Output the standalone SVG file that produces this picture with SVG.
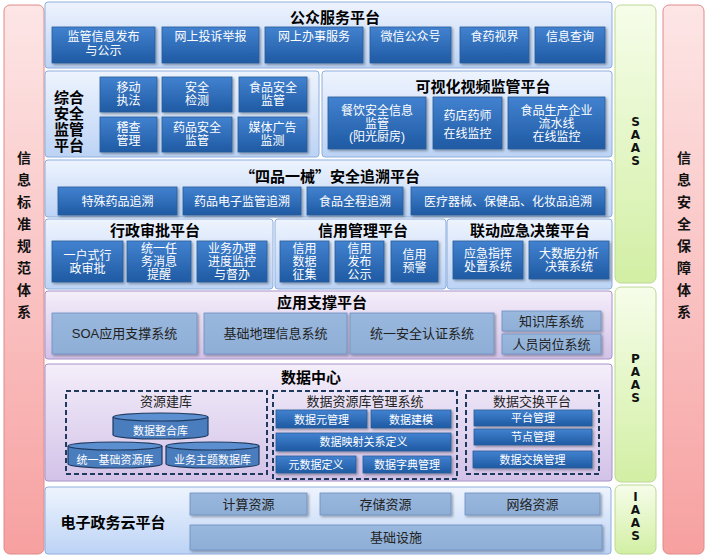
<svg xmlns="http://www.w3.org/2000/svg" width="706" height="560" viewBox="0 0 706 560">
<defs>
<linearGradient id="gPink" x1="0" y1="0" x2="0" y2="1"><stop offset="0" stop-color="#fde6e6"/><stop offset="1" stop-color="#f7a0a0"/></linearGradient>
<linearGradient id="gGreen" x1="0" y1="0" x2="0" y2="1"><stop offset="0" stop-color="#f6fdea"/><stop offset="1" stop-color="#d2efa4"/></linearGradient>
<linearGradient id="gBlueBand" x1="0" y1="0" x2="0" y2="1"><stop offset="0" stop-color="#eef4fe"/><stop offset="1" stop-color="#bcd3f5"/></linearGradient>
<linearGradient id="gPurpleBand" x1="0" y1="0" x2="0" y2="1"><stop offset="0" stop-color="#f4eefa"/><stop offset="1" stop-color="#d2c2e8"/></linearGradient>
<linearGradient id="gBtn" x1="0" y1="0" x2="0" y2="1"><stop offset="0" stop-color="#4282d0"/><stop offset="1" stop-color="#1f5aa3"/></linearGradient>
<linearGradient id="gLight" x1="0" y1="0" x2="0" y2="1"><stop offset="0" stop-color="#9ab8de"/><stop offset="1" stop-color="#8eaed6"/></linearGradient>
<filter id="sh" x="-10%" y="-10%" width="130%" height="140%"><feDropShadow dx="1.5" dy="1.5" stdDeviation="1" flood-color="#000" flood-opacity="0.35"/></filter>
</defs>
<style>
text{font-family:"Liberation Sans","Noto Sans CJK SC",sans-serif;}
.pk{fill:url(#gPink);stroke:#e08a8a;stroke-width:1;}
.gr{fill:url(#gGreen);stroke:#bcd894;stroke-width:1;}
.bb{fill:url(#gBlueBand);stroke:#8eaedc;stroke-width:1;}
.pb{fill:url(#gPurpleBand);stroke:#a892c8;stroke-width:1;}
.btn{fill:url(#gBtn);stroke:#2a5c98;stroke-width:0.8;filter:url(#sh);}
.lb{fill:url(#gLight);stroke:#6d8fc0;stroke-width:0.8;filter:url(#sh);}
.bt{fill:#fff;font-size:12px;text-anchor:middle;}
.bts{fill:#fff;font-size:11px;text-anchor:middle;}
.lt{fill:#222;font-size:13px;text-anchor:middle;}
.tt{fill:#000;font-size:15px;font-weight:bold;text-anchor:middle;}
.cjk{font-family:"Noto Sans CJK SC",sans-serif;}
.st{fill:#222;font-size:13px;text-anchor:middle;}
.vt{fill:#111;font-size:14px;font-weight:bold;text-anchor:middle;}
.lt2{fill:#111;font-family:"DejaVu Sans",sans-serif;font-size:12px;font-weight:bold;text-anchor:middle;}
.dash{fill:none;stroke:#1f3a5c;stroke-width:2;stroke-dasharray:5,3;}
.cyl{fill:#4a7dbe;stroke:#1f3a60;stroke-width:1.2;}
.cylt{fill:#5c8fd0;stroke:#1f3a60;stroke-width:1.2;}
</style>

<!-- side pillars -->
<g id="std-pillar">
<rect class="pk" x="4" y="5" width="40" height="549" rx="6"/>
<text class="vt"><tspan x="24" y="163">信</tspan><tspan x="24" y="185">息</tspan><tspan x="24" y="207">标</tspan><tspan x="24" y="229">准</tspan><tspan x="24" y="251">规</tspan><tspan x="24" y="273">范</tspan><tspan x="24" y="295">体</tspan><tspan x="24" y="317">系</tspan></text>
</g>
<g id="sec-pillar">
<rect class="pk" x="663" y="5" width="41" height="549" rx="6"/>
<text class="vt"><tspan x="684" y="163">信</tspan><tspan x="684" y="185">息</tspan><tspan x="684" y="207">安</tspan><tspan x="684" y="229">全</tspan><tspan x="684" y="251">保</tspan><tspan x="684" y="273">障</tspan><tspan x="684" y="295">体</tspan><tspan x="684" y="317">系</tspan></text>
</g>
<g id="saas">
<rect class="gr" x="615" y="5" width="41" height="278" rx="6"/>
<text class="lt2"><tspan x="635.5" y="126">S</tspan><tspan x="635.5" y="139">A</tspan><tspan x="635.5" y="152">A</tspan><tspan x="635.5" y="165">S</tspan></text>
</g>
<g id="paas">
<rect class="gr" x="615" y="287" width="41" height="195" rx="6"/>
<text class="lt2"><tspan x="635.5" y="363">P</tspan><tspan x="635.5" y="376">A</tspan><tspan x="635.5" y="389">A</tspan><tspan x="635.5" y="402">S</tspan></text>
</g>
<g id="iaas">
<rect class="gr" x="615" y="485" width="41" height="69" rx="6"/>
<text class="lt2"><tspan x="635.5" y="501">I</tspan><tspan x="635.5" y="514">A</tspan><tspan x="635.5" y="527">A</tspan><tspan x="635.5" y="540">S</tspan></text>
</g>

<!-- 公众服务平台 -->
<g id="public-service">
<rect class="bb" x="45" y="2" width="567" height="66" rx="3"/>
<text class="tt" x="335" y="23">公众服务平台</text>
<rect class="btn" x="52" y="27" width="103" height="36"/>
<text class="bt"><tspan x="103.5" y="41">监管信息发布</tspan><tspan x="103.5" y="55">与公示</tspan></text>
<rect class="btn" x="162" y="27" width="97" height="36"/>
<text class="bt" x="210.5" y="41">网上投诉举报</text>
<rect class="btn" x="265" y="27" width="98" height="36"/>
<text class="bt" x="314" y="41">网上办事服务</text>
<rect class="btn" x="370" y="27" width="81" height="36"/>
<text class="bt" x="410.5" y="41">微信公众号</text>
<rect class="btn" x="460" y="27" width="69" height="36"/>
<text class="bt" x="494.5" y="41">食药视界</text>
<rect class="btn" x="535" y="27" width="70" height="36"/>
<text class="bt" x="570" y="41">信息查询</text>
</g>

<!-- 综合安全监管平台 -->
<g id="safety-supervision">
<rect class="bb" x="45" y="71" width="274" height="86" rx="3"/>
<text class="tt"><tspan x="69" y="103">综合</tspan><tspan x="69" y="119">安全</tspan><tspan x="69" y="135">监管</tspan><tspan x="69" y="151">平台</tspan></text>
<rect class="btn" x="100" y="77" width="57" height="35"/>
<text class="bt"><tspan x="128.5" y="92">移动</tspan><tspan x="128.5" y="105">执法</tspan></text>
<rect class="btn" x="162" y="77" width="70" height="35"/>
<text class="bt"><tspan x="197" y="92">安全</tspan><tspan x="197" y="105">检测</tspan></text>
<rect class="btn" x="239" y="77" width="68" height="35"/>
<text class="bt"><tspan x="273" y="92">食品安全</tspan><tspan x="273" y="105">监管</tspan></text>
<rect class="btn" x="100" y="117" width="57" height="35"/>
<text class="bt"><tspan x="128.5" y="132">稽查</tspan><tspan x="128.5" y="145">管理</tspan></text>
<rect class="btn" x="162" y="117" width="70" height="35"/>
<text class="bt"><tspan x="197" y="132">药品安全</tspan><tspan x="197" y="145">监管</tspan></text>
<rect class="btn" x="238" y="117" width="69" height="35"/>
<text class="bt"><tspan x="272.5" y="132">媒体广告</tspan><tspan x="272.5" y="145">监测</tspan></text>
</g>

<!-- 可视化视频监管平台 -->
<g id="video-supervision">
<rect class="bb" x="322" y="71" width="290" height="86" rx="3"/>
<text class="tt" x="483" y="92">可视化视频监管平台</text>
<rect class="btn" x="328" y="97" width="98" height="52"/>
<text class="bt"><tspan x="377" y="115">餐饮安全信息</tspan><tspan x="377" y="128">监管</tspan><tspan x="377" y="141">(阳光厨房)</tspan></text>
<rect class="btn" x="433" y="97" width="69" height="52"/>
<text class="bt"><tspan x="467.5" y="120">药店药师</tspan><tspan x="467.5" y="138">在线监控</tspan></text>
<rect class="btn" x="508" y="97" width="97" height="52"/>
<text class="bt"><tspan x="556.5" y="115">食品生产企业</tspan><tspan x="556.5" y="128">流水线</tspan><tspan x="556.5" y="141">在线监控</tspan></text>
</g>

<!-- 四品一械 -->
<g id="traceability">
<rect class="bb" x="45" y="160" width="567" height="57" rx="3"/>
<text class="tt cjk" x="330" y="182">“四品一械”安全追溯平台</text>
<rect class="btn" x="58" y="187" width="119" height="28"/>
<text class="bt" x="117.5" y="206">特殊药品追溯</text>
<rect class="btn" x="183" y="187" width="118" height="28"/>
<text class="bt" x="242" y="206">药品电子监管追溯</text>
<rect class="btn" x="307" y="187" width="96" height="28"/>
<text class="bt" x="355" y="206">食品全程追溯</text>
<rect class="btn" x="411" y="187" width="194" height="28"/>
<text class="bt" x="508" y="206">医疗器械、保健品、化妆品追溯</text>
</g>

<!-- 行政审批平台 -->
<g id="admin-approval">
<rect class="bb" x="45" y="219" width="228" height="70" rx="3"/>
<text class="tt" x="155" y="236">行政审批平台</text>
<rect class="btn" x="52" y="241" width="71" height="41"/>
<text class="bt"><tspan x="87.5" y="260">一户式行</tspan><tspan x="87.5" y="273">政审批</tspan></text>
<rect class="btn" x="127" y="241" width="64" height="41"/>
<text class="bt"><tspan x="159" y="253">统一任</tspan><tspan x="159" y="266">务消息</tspan><tspan x="159" y="279">提醒</tspan></text>
<rect class="btn" x="197" y="241" width="70" height="41"/>
<text class="bt"><tspan x="232" y="253">业务办理</tspan><tspan x="232" y="266">进度监控</tspan><tspan x="232" y="279">与督办</tspan></text>
</g>

<!-- 信用管理平台 -->
<g id="credit">
<rect class="bb" x="275" y="219" width="171" height="70" rx="3"/>
<text class="tt" x="363" y="236">信用管理平台</text>
<rect class="btn" x="280" y="241" width="49" height="41"/>
<text class="bt"><tspan x="304.5" y="253">信用</tspan><tspan x="304.5" y="266">数据</tspan><tspan x="304.5" y="279">征集</tspan></text>
<rect class="btn" x="335" y="241" width="49" height="41"/>
<text class="bt"><tspan x="359.5" y="253">信用</tspan><tspan x="359.5" y="266">发布</tspan><tspan x="359.5" y="279">公示</tspan></text>
<rect class="btn" x="391" y="241" width="47" height="41"/>
<text class="bt"><tspan x="414.5" y="259">信用</tspan><tspan x="414.5" y="272">预警</tspan></text>
</g>

<!-- 联动应急决策平台 -->
<g id="emergency">
<rect class="bb" x="447" y="219" width="165" height="70" rx="3"/>
<text class="tt" x="530" y="236">联动应急决策平台</text>
<rect class="btn" x="453" y="241" width="70" height="38"/>
<text class="bt"><tspan x="488" y="258">应急指挥</tspan><tspan x="488" y="271">处置系统</tspan></text>
<rect class="btn" x="529" y="241" width="80" height="38"/>
<text class="bt"><tspan x="569" y="258">大数据分析</tspan><tspan x="569" y="271">决策系统</tspan></text>
</g>

<!-- 应用支撑平台 -->
<g id="app-support">
<rect class="pb" x="45" y="291" width="567" height="68" rx="3"/>
<text class="tt" x="322" y="308">应用支撑平台</text>
<rect class="lb" x="52" y="313" width="145" height="41"/>
<text class="lt" x="124.5" y="338">SOA应用支撑系统</text>
<rect class="lb" x="204" y="313" width="143" height="41"/>
<text class="lt" x="275.5" y="338">基础地理信息系统</text>
<rect class="lb" x="350" y="313" width="144" height="41"/>
<text class="lt" x="422" y="338">统一安全认证系统</text>
<rect class="lb" x="502" y="311" width="99" height="20"/>
<text class="lt" x="551.5" y="326">知识库系统</text>
<rect class="lb" x="502" y="334" width="99" height="20"/>
<text class="lt" x="551.5" y="349">人员岗位系统</text>
</g>

<!-- 数据中心 -->
<g id="data-center">
<rect class="pb" x="45" y="364" width="567" height="117" rx="3"/>
<text class="tt" x="311" y="383">数据中心</text>
</g>
<g id="resource-lib">
<rect class="dash" x="66" y="391" width="201" height="83"/>
<text class="st" x="166" y="406">资源建库</text>
<g id="cyl-integrate">
<path class="cyl" d="M113,417 V435 A47.5,4 0 0 0 208,435 V417"/>
<ellipse class="cylt" cx="160.5" cy="417" rx="47.5" ry="4"/>
<text class="bts" x="160.5" y="435">数据整合库</text>
</g>
<g id="cyl-base">
<path class="cyl" d="M68,446 V464 A47,4 0 0 0 162,464 V446"/>
<ellipse class="cylt" cx="115" cy="446" rx="47" ry="4"/>
<text class="bts" x="115" y="464">统一基础资源库</text>
</g>
<g id="cyl-topic">
<path class="cyl" d="M166,446 V464 A46.5,4 0 0 0 259,464 V446"/>
<ellipse class="cylt" cx="212.5" cy="446" rx="46.5" ry="4"/>
<text class="bts" x="212.5" y="464">业务主题数据库</text>
</g>
</g>
<g id="resource-mgmt">
<rect class="dash" x="273" y="391" width="184" height="88"/>
<text class="st" x="365" y="406">数据资源库管理系统</text>
<rect class="btn" x="276" y="410" width="91" height="18"/>
<text class="bts" x="321.5" y="423.5">数据元管理</text>
<rect class="btn" x="371" y="410" width="80" height="18"/>
<text class="bts" x="411" y="423.5">数据建模</text>
<rect class="btn" x="276" y="433" width="175" height="18"/>
<text class="bts" x="363.5" y="446">数据映射关系定义</text>
<rect class="btn" x="276" y="456" width="80" height="17"/>
<text class="bts" x="316" y="468.5">元数据定义</text>
<rect class="btn" x="363" y="456" width="88" height="17"/>
<text class="bts" x="407" y="468.5">数据字典管理</text>
</g>
<g id="data-exchange">
<rect class="dash" x="466" y="391" width="133" height="83"/>
<text class="st" x="532" y="406">数据交换平台</text>
<rect class="btn" x="474" y="410" width="118" height="16"/>
<text class="bts" x="533" y="422">平台管理</text>
<rect class="btn" x="474" y="429" width="118" height="16"/>
<text class="bts" x="533" y="441">节点管理</text>
<rect class="btn" x="473" y="451" width="119" height="17"/>
<text class="bts" x="532.5" y="463.5">数据交换管理</text>
</g>

<!-- 电子政务云平台 -->
<g id="cloud">
<rect class="bb" x="45" y="487" width="566" height="67" rx="3"/>
<text class="tt" x="113" y="528">电子政务云平台</text>
<rect class="lb" x="190" y="493" width="117" height="22"/>
<text class="lt" x="248.5" y="508.5">计算资源</text>
<rect class="lb" x="320" y="493" width="131" height="22"/>
<text class="lt" x="385.5" y="508.5">存储资源</text>
<rect class="lb" x="465" y="493" width="135" height="22"/>
<text class="lt" x="532.5" y="508.5">网络资源</text>
<rect class="lb" x="190" y="525" width="412" height="25"/>
<text class="lt" x="396" y="542">基础设施</text>
</g>
</svg>
